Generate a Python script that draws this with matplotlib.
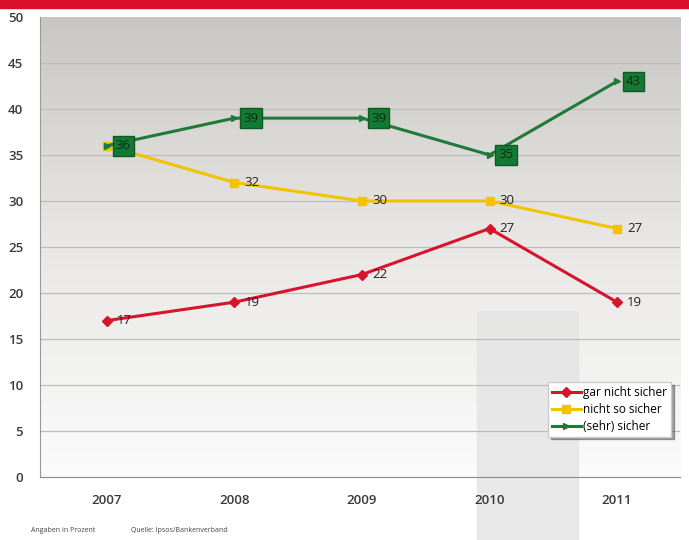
import numpy as np
import matplotlib
matplotlib.use("Agg")
import matplotlib.pyplot as plt
from matplotlib.patches import Rectangle

years = ["2007", "2008", "2009", "2010", "2011"]
gar_nicht = [17, 19, 22, 27, 19]
nicht_so = [36, 32, 30, 30, 27]
sicher = [36, 39, 39, 35, 43]

plt.rcParams['font.family'] = ['Open Sans', 'DejaVu Sans']

fig = plt.figure(figsize=(6.89, 5.4), dpi=100)
fig.patch.set_facecolor("white")
ax = fig.add_axes([0.058, 0.1167, 0.929, 0.852])

# red bar at the top
fig.patches.append(Rectangle((0, 0.985), 1, 0.015, transform=fig.transFigure,
                             color="#d8102a", zorder=0))

x = np.arange(len(years))
ax.set_xlim(-0.525, 4.494)
ax.set_ylim(0, 50)

# gradient background
grad = np.linspace(0, 1, 256).reshape(-1, 1)
cmap = matplotlib.colors.LinearSegmentedColormap.from_list("bg", ["#fbfbfb", "#e9e8e6", "#c8c6c2"])
ax.imshow(grad, aspect="auto", cmap=cmap, extent=[-0.525, 4.494, 0, 50],
          origin="lower", zorder=0)

# light column behind 2010
ax.add_patch(Rectangle((2.9, -8), 0.79, 26, color="#e4e4e4", alpha=0.8,
                       zorder=0.5, clip_on=False))

for yv in range(5, 50, 5):
    ax.axhline(yv, color="#bdbdbd", lw=0.9, zorder=1)

ax.plot(x, gar_nicht, color="#d6142c", lw=2.2, marker="D", ms=5, zorder=3,
        label="gar nicht sicher")
ax.plot(x, nicht_so, color="#f2c300", lw=2.2, marker="s", ms=6, zorder=3,
        label="nicht so sicher")
ax.plot(x, sicher, color="#1f7a3a", lw=2.2, marker=">", ms=4, zorder=3,
        label="(sehr) sicher")

for xi, v in zip(x, gar_nicht):
    ax.text(xi + 0.08, v, str(v), va="center", ha="left", fontsize=9.5,
            color="#222222", zorder=5)
for xi, v in zip(x, nicht_so):
    ax.text(xi + 0.08, v, str(v), va="center", ha="left", fontsize=9.5,
            color="#222222", zorder=5)
for xi, v in zip(x, sicher):
    ax.text(xi + 0.13, v, str(v), va="center", ha="center", fontsize=9.5, zorder=6,
            color="#0b2a12",
            bbox=dict(boxstyle="square,pad=0.25", fc="#137a33", ec="#0d5a25"))

ax.set_xticks(x)
ax.set_xticklabels(years, fontsize=9.5, fontweight="semibold")
ax.set_yticks(range(0, 51, 5))
ax.set_yticklabels([str(v) for v in range(0, 51, 5)], fontsize=9.5,
                   fontweight="semibold")
ax.tick_params(axis="y", length=0, pad=12, labelcolor="#3a3a3a")
ax.tick_params(axis="x", length=0, pad=12, labelcolor="#3a3a3a")
for s in ["top", "right"]:
    ax.spines[s].set_visible(False)
ax.spines["left"].set_color("#999999")
ax.spines["bottom"].set_color("#888888")

leg = ax.legend(loc="lower right", bbox_to_anchor=(0.995, 0.075), fontsize=8.5,
                frameon=True, fancybox=False, shadow=True, handlelength=2.5,
                borderpad=0.3, labelspacing=0.35, handletextpad=0.2)
leg.get_frame().set_edgecolor("#cccccc")
leg.get_frame().set_facecolor("white")

fig.text(0.045, 0.015, "Angaben in Prozent", fontsize=5, color="#444444")
fig.text(0.19, 0.015, "Quelle: Ipsos/Bankenverband", fontsize=5, color="#444444")

fig.savefig("out.png", dpi=100)
